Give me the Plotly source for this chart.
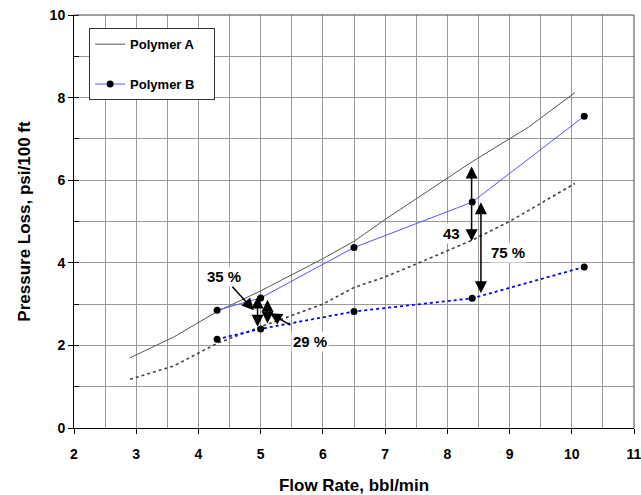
import plotly.graph_objects as go

# Polymer A (solid gray)
a_x = [2.9, 3.6, 4.3, 5.0, 6.0, 6.5, 7.0, 8.4, 9.3, 10.05]
a_y = [1.7, 2.2, 2.82, 3.32, 4.1, 4.52, 5.05, 6.45, 7.28, 8.12]
# Polymer B (solid blue with markers)
b_x = [4.3, 5.0, 6.5, 8.4, 10.2]
b_y = [2.85, 3.15, 4.37, 5.47, 7.55]
# Second (dotted) curve for Polymer A
a2_x = [2.9, 3.6, 4.3, 5.0, 6.0, 6.5, 7.0, 7.5, 8.4, 9.0, 10.05]
a2_y = [1.18, 1.5, 2.05, 2.45, 3.0, 3.4, 3.66, 3.97, 4.55, 5.0, 5.92]
# Second (dotted) curve for Polymer B
b2_x = [4.3, 5.0, 6.5, 8.4, 10.2]
b2_y = [2.15, 2.4, 2.82, 3.14, 3.9]

x_ticks = [2, 3, 4, 5, 6, 7, 8, 9, 10, 11]
y_ticks = [0, 2, 4, 6, 8, 10]

FONT = "Liberation Sans, Arial, sans-serif"
PAD = "\u00a0\u00a0\u00a0\u00a0"

fig = go.Figure()
fig.add_trace(go.Scatter(x=a_x, y=a_y, mode="lines", name="Polymer A" + PAD,
                         line=dict(color="#555555", width=1), legendgroup="a"))
fig.add_trace(go.Scatter(x=b_x, y=b_y, mode="lines+markers", name="Polymer B" + PAD,
                         line=dict(color="#5555ff", width=1),
                         marker=dict(color="black", size=7), legendgroup="b"))
fig.add_trace(go.Scatter(x=a2_x, y=a2_y, mode="lines", showlegend=False,
                         line=dict(color="#444444", width=1.6, dash="dot")))
fig.add_trace(go.Scatter(x=b2_x, y=b2_y, mode="lines+markers", showlegend=False,
                         line=dict(color="#0000ff", width=1.8, dash="dot"),
                         marker=dict(color="black", size=7)))

ann = []
def text(x, y, s):
    ann.append(dict(x=x, y=y, text=s, showarrow=False, xref="x", yref="y",
                    font=dict(family=FONT, size=15, color="black", weight="bold"),
                    bgcolor="white"))

def arrow(x, y, ax, ay, both=False):
    ann.append(dict(x=x, y=y, ax=ax, ay=ay, xref="x", yref="y", axref="x", ayref="y",
                    text="", showarrow=True, arrowhead=2, arrowsize=1.6, arrowwidth=1.5,
                    arrowcolor="black", startarrowhead=2, startarrowsize=1.6,
                    arrowside="end+start" if both else "end"))

arrow(4.95, 2.45, 4.95, 3.22, both=True)
arrow(5.11, 2.53, 5.11, 3.14, both=True)
arrow(4.89, 2.85, 4.52, 3.46)
arrow(5.15, 2.78, 5.5, 2.47)
arrow(8.39, 4.52, 8.39, 6.37, both=True)
arrow(8.54, 3.26, 8.54, 5.5, both=True)
text(4.41, 3.68, "35 %")
text(5.8, 2.1, "29 %")
text(8.07, 4.72, "43")
text(8.97, 4.26, "75 %")

fig.update_layout(
    width=641, height=495,
    margin=dict(l=74, r=7, t=15, b=67, autoexpand=False),
    plot_bgcolor="white", paper_bgcolor="white",
    font=dict(family=FONT, color="black"),
    annotations=ann,
    showlegend=True,
    legend=dict(x=0.027, y=0.968, xanchor="left", yanchor="top",
                bordercolor="#333333", borderwidth=1, bgcolor="white",
                font=dict(family=FONT, size=13, color="black", weight="bold"),
                tracegroupgap=20, itemwidth=30),
    xaxis=dict(range=[2, 11], tickvals=x_ticks, ticktext=[str(v) for v in x_ticks],
               showline=True, linecolor="black", linewidth=1,
               ticks="outside", ticklen=5, tickcolor="black",
               ticklabelstandoff=8, ticklabeloverflow="allow",
               showgrid=True, gridcolor="#999999", gridwidth=1,
               minor=dict(dtick=0.5, showgrid=True, gridcolor="#999999"),
               tickfont=dict(family=FONT, size=14, weight="bold"),
               title=dict(text="Flow Rate, bbl/min",
                          font=dict(family=FONT, size=17, weight="bold"), standoff=18),
               zeroline=False),
    yaxis=dict(range=[0, 10], tickvals=y_ticks, ticktext=[str(v) for v in y_ticks],
               showline=True, linecolor="black", linewidth=1,
               ticks="outside", ticklen=5, tickcolor="black",
               showgrid=True, gridcolor="#999999", gridwidth=1,
               minor=dict(dtick=1, showgrid=True, gridcolor="#999999",
                          ticks="inside", ticklen=5, tickcolor="black"),
               tickfont=dict(family=FONT, size=14, weight="bold"),
               title=dict(text="Pressure Loss, psi/100 ft",
                          font=dict(family=FONT, size=17, weight="bold"), standoff=14),
               zeroline=False),
)
fig.add_shape(type="line", xref="paper", yref="paper", x0=0, x1=1, y0=1, y1=1,
              line=dict(color="#444444", width=1))
fig.add_shape(type="line", xref="paper", yref="paper", x0=1, x1=1, y0=0, y1=1,
              line=dict(color="#444444", width=1))

fig.write_html("out.html")
